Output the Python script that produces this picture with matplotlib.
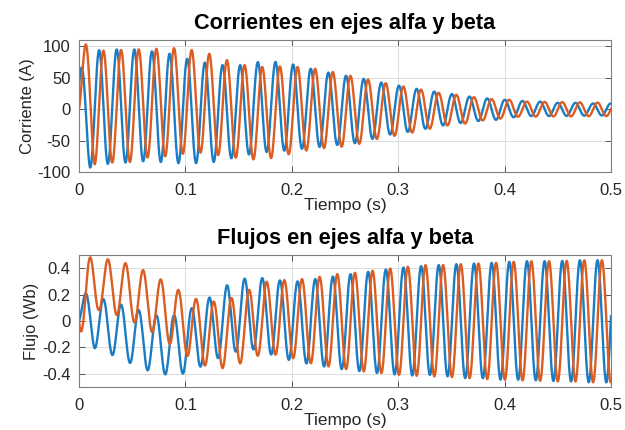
import numpy as np
import matplotlib
matplotlib.use('Agg')
import matplotlib.pyplot as plt

plt.rcParams['font.family'] = ['Liberation Sans', 'DejaVu Sans']

# supply frequency and phase of the alpha component (read from peak positions)
freq = 60.3
phase_i = -0.85
phase_flux = -2.43

# --- currents: peak / trough envelopes ---
ia_up_t = [0, 0.0031, 0.0190, 0.0354, 0.0520, 0.0686, 0.0852, 0.1018, 0.1184, 0.1350, 0.1520, 0.1685,
           0.1850, 0.2012, 0.2185, 0.2347, 0.2515, 0.2680, 0.2850, 0.3020, 0.3180, 0.3340, 0.3500, 0.3670,
           0.3840, 0.4000, 0.4170, 0.4330, 0.4500, 0.4660, 0.4830, 0.5]
ia_up_v = [60, 68, 94, 95, 95, 92, 88, 80, 74, 70, 70, 75, 75, 71, 64, 58, 53, 48, 42, 37, 32, 28, 24, 20,
           17, 15, 13, 12, 10, 10, 9, 9]
ia_lo_t = [0, 0.0103, 0.0268, 0.0435, 0.0600, 0.0766, 0.0937, 0.1103, 0.1268, 0.1435, 0.1603, 0.1770,
           0.1936, 0.2092, 0.2265, 0.2430, 0.2600, 0.2765, 0.2935, 0.3100, 0.3265, 0.3420, 0.3590, 0.3750,
           0.3920, 0.4080, 0.4250, 0.4420, 0.5]
ia_lo_v = [-60, -93, -87, -85, -83, -84, -86, -86, -84, -78, -72, -68, -66, -63, -60, -57, -54, -47, -40,
           -36, -31, -26, -22, -19, -17, -13, -11, -11, -10]

ib_up_t = [0, 0.0063, 0.0229, 0.0393, 0.0558, 0.0724, 0.0893, 0.1060, 0.1225, 0.1388, 0.1553, 0.1726,
           0.1893, 0.2057, 0.2222, 0.2387, 0.2550, 0.2720, 0.2890, 0.3050, 0.3220, 0.3380, 0.3540, 0.3710,
           0.3870, 0.4040, 0.4200, 0.5]
ib_up_v = [100, 103, 93, 94, 95, 96, 97, 94, 88, 78, 70, 67, 68, 67, 64, 59, 53, 47, 41, 36, 31, 26, 23,
           19, 16, 15, 12, 10]
ib_lo_t = [0, 0.0148, 0.0313, 0.0480, 0.0643, 0.0810, 0.0974, 0.1138, 0.1303, 0.1466, 0.1632, 0.1800,
           0.1965, 0.2130, 0.2295, 0.2460, 0.2640, 0.2810, 0.2980, 0.3140, 0.3300, 0.3460, 0.3630, 0.3790,
           0.3960, 0.4130, 0.5]
ib_lo_v = [-14, -88, -85, -84, -77, -75, -71, -69, -73, -77, -80, -78, -72, -66, -62, -60, -55, -47, -42,
           -37, -31, -26, -23, -18, -15, -12, -11]

# --- fluxes ---
fa_up_t = [0, 0.0063, 0.0229, 0.0395, 0.0560, 0.0724, 0.0890, 0.1057, 0.1225, 0.1390, 0.1560, 0.1726,
           0.1890, 0.2060, 0.2225, 0.2390, 0.2553, 0.2720, 0.2885, 0.3050, 0.3210, 0.3377, 0.3550, 0.3712,
           0.3879, 0.4045, 0.4214, 0.4380, 0.4543, 0.4710, 0.4875, 0.5]
fa_up_v = [0.21, 0.21, 0.166, 0.124, 0.083, 0.043, 0.043, 0.096, 0.177, 0.27, 0.322, 0.325, 0.307, 0.30,
           0.318, 0.337, 0.355, 0.372, 0.39, 0.405, 0.415, 0.423, 0.43, 0.435, 0.44, 0.448, 0.453, 0.453,
           0.455, 0.46, 0.46, 0.46]
fa_lo_t = [0, 0.0150, 0.0313, 0.0480, 0.0642, 0.0814, 0.0980, 0.1144, 0.1310, 0.1476, 0.1645, 0.1810,
           0.1975, 0.2140, 0.2305, 0.2470, 0.2641, 0.2813, 0.2976, 0.3142, 0.3310, 0.3475, 0.3640, 0.3810,
           0.3970, 0.4140, 0.4310, 0.4470, 0.4640, 0.4810, 0.5]
fa_lo_v = [-0.03, -0.208, -0.258, -0.318, -0.373, -0.405, -0.398, -0.345, -0.28, -0.231, -0.215, -0.255,
           -0.295, -0.322, -0.345, -0.365, -0.38, -0.395, -0.405, -0.413, -0.408, -0.42, -0.433, -0.433,
           -0.445, -0.445, -0.45, -0.455, -0.458, -0.465, -0.465]

fb_up_t = [0, 0.0103, 0.0269, 0.0438, 0.0600, 0.0765, 0.0937, 0.1100, 0.1266, 0.1435, 0.1607, 0.1764,
           0.1936, 0.2102, 0.2265, 0.2429, 0.2594, 0.2760, 0.2923, 0.3087, 0.3252, 0.3410, 0.3582, 0.3745,
           0.3910, 0.4077, 0.4245, 0.4412, 0.4577, 0.4745, 0.4910, 0.5]
fb_up_v = [0.48, 0.483, 0.468, 0.438, 0.387, 0.317, 0.234, 0.167, 0.147, 0.175, 0.24, 0.298, 0.31, 0.318,
           0.335, 0.355, 0.365, 0.38, 0.397, 0.41, 0.423, 0.423, 0.43, 0.435, 0.44, 0.448, 0.453, 0.453,
           0.455, 0.46, 0.46, 0.46]
fb_lo_t = [0, 0.0188, 0.0354, 0.0520, 0.0690, 0.0855, 0.1020, 0.1180, 0.1350, 0.1520, 0.1685, 0.1852,
           0.2015, 0.2181, 0.2350, 0.2516, 0.2680, 0.2844, 0.3011, 0.3177, 0.3345, 0.3510, 0.3675, 0.3840,
           0.4005, 0.4170, 0.4340, 0.4505, 0.4670, 0.4840, 0.5]
fb_lo_v = [-0.1, 0.085, 0.045, -0.01, -0.085, -0.175, -0.267, -0.337, -0.357, -0.32, -0.262, -0.255,
           -0.282, -0.32, -0.345, -0.365, -0.382, -0.395, -0.408, -0.415, -0.42, -0.425, -0.433, -0.44,
           -0.445, -0.45, -0.453, -0.458, -0.458, -0.465, -0.465]

t = np.linspace(0, 0.5, 6001)


def wave(up_t, up_v, lo_t, lo_v, phase):
    up = np.interp(t, up_t, up_v)
    lo = np.interp(t, lo_t, lo_v)
    return (up + lo) / 2 + (up - lo) / 2 * np.cos(2 * np.pi * freq * t + phase)


ia = wave(ia_up_t, ia_up_v, ia_lo_t, ia_lo_v, phase_i)
ib = wave(ib_up_t, ib_up_v, ib_lo_t, ib_lo_v, phase_i - np.pi / 2)
fa = wave(fa_up_t, fa_up_v, fa_lo_t, fa_lo_v, phase_flux)
fb = wave(fb_up_t, fb_up_v, fb_lo_t, fb_lo_v, phase_flux - np.pi / 2)

blue = '#1a7cc4'
orange = '#db5d22'
txt = '#262626'

fig = plt.figure(figsize=(6.25, 4.3), dpi=100)
ax1 = fig.add_axes([0.1264, 0.6, 0.8512, 0.307])
ax2 = fig.add_axes([0.1264, 0.1, 0.8512, 0.307])

panels = [
    (ax1, ia, ib, 'Corrientes en ejes alfa y beta', 'Corriente (A)', (-100, 110), [-100, -50, 0, 50, 100],
     ['-100', '-50', '0', '50', '100']),
    (ax2, fa, fb, 'Flujos en ejes alfa y beta', 'Flujo (Wb)', (-0.5, 0.5), [-0.4, -0.2, 0, 0.2, 0.4],
     ['-0.4', '-0.2', '0', '0.2', '0.4']),
]
xticks = [0, 0.1, 0.2, 0.3, 0.4, 0.5]
xlabels = ['0', '0.1', '0.2', '0.3', '0.4', '0.5']

for ax, a, b, title, ylabel, ylim, yt, ytl in panels:
    ax.plot(t, a, color=blue, lw=1.7)
    ax.plot(t, b, color=orange, lw=1.7)
    ax.set_xlim(0, 0.5)
    ax.set_ylim(*ylim)
    ax.set_xticks(xticks)
    ax.set_xticklabels(xlabels)
    ax.set_yticks(yt)
    ax.set_yticklabels(ytl)
    ax.grid(True, color='#dcdcdc', lw=0.7)
    ax.set_axisbelow(True)
    ax.tick_params(direction='in', top=True, right=True, length=4, width=0.7, color='#555555',
                   labelsize=12, labelcolor=txt)
    ax.tick_params(axis='x', pad=8)
    ax.tick_params(axis='y', pad=6)
    for s in ax.spines.values():
        s.set_color('#7f7f7f')
        s.set_linewidth(0.8)
    ax.set_title(title, fontsize=15.7, fontweight='bold', color='black', pad=8)
    ax.set_xlabel('Tiempo (s)', fontsize=12.5, color=txt, labelpad=0)
    ax.set_ylabel(ylabel, fontsize=12, color=txt, labelpad=2)

fig.savefig('out.png', dpi=100)
